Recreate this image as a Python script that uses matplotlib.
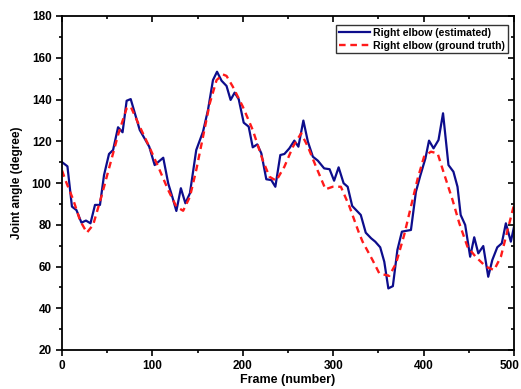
import matplotlib
matplotlib.use("Agg")
import matplotlib.pyplot as plt
import matplotlib.transforms as mtransforms
from matplotlib.ticker import MultipleLocator

plt.rcParams['font.family'] = ['Liberation Sans', 'DejaVu Sans']

est_x = [0, 6, 11, 16, 21.5, 26.5, 31.5, 36.5, 42, 46.5, 52, 56.5, 62, 67, 71.5, 76,
         86, 96.5, 102.5, 112, 117.5, 122, 126.5, 131.5, 136.5, 141.5, 148.5, 156,
         161.5, 167, 171.5, 176.5, 182, 186.5, 191, 195.5, 201, 206.5, 211, 216,
         220.5, 226, 231.5, 236, 241.5, 246, 251.5, 257, 261.5, 267, 272, 277.5,
         283, 290, 296, 301, 306, 311.5, 316, 321, 330.5, 336, 342, 346.5, 352,
         356.5, 361, 366, 371, 376, 386, 391.5, 396, 402, 406, 411, 416.5, 421.5,
         427.5, 433, 437.5, 441, 446, 451.5, 456, 460.5, 466, 471.5, 476, 481.5,
         486.5, 491, 496.5, 500]
est_y = [110, 108, 88.7, 87, 81, 82, 80.7, 89.5, 89.5, 103.8, 113.9, 115.8, 126.7,
         124.3, 139.4, 140.2, 125.4, 117.4, 108.6, 112.1, 99.8, 93.4, 86.6, 97.5,
         90.3, 95.1, 115.8, 124.6, 135, 149.3, 153.3, 149, 146.5, 139.8, 143.3,
         140.1, 128.9, 127, 117.1, 118.5, 114.2, 101.8, 101.4, 98.2, 113.4, 113.9,
         116.6, 120.3, 117.4, 129.9, 119.8, 112.6, 110.7, 107, 106.6, 101.1, 107.5,
         99.9, 98.2, 89, 84.7, 76.2, 73.5, 71.9, 69.2, 62.3, 49.5, 50.6, 67.9,
         76.7, 77.5, 95.8, 103, 111.8, 120.3, 116.6, 120.6, 133.4, 108.6, 105.4,
         98.2, 84.7, 79.9, 64.7, 74, 66.3, 69.8, 55.1, 63.1, 69.2, 71.1, 80.7,
         71.9, 79]

gt_x = [0, 5, 12.5, 20, 27.5, 34.5, 43.5, 53, 62, 71.5, 76, 86, 96.5, 108, 117.5,
        126.5, 134, 141.5, 148.5, 156, 163.5, 171, 178, 182, 189, 200, 211, 222,
        229.5, 237, 246, 255.5, 264.5, 272, 281, 291.5, 299.5, 308.5, 318, 328,
        332.5, 343.5, 351, 362, 369.5, 378.5, 386, 393.5, 400.5, 408, 415.5,
        422.5, 432, 439.5, 448.5, 457.5, 469, 478, 485.5, 492.5, 500]
gt_y = [106, 100, 91.9, 82, 76.2, 80, 93.4, 108.6, 123, 135.8, 136.6, 127, 117.4,
        106.2, 96.6, 88.7, 86.7, 93.4, 106.2, 122.2, 138.2, 149.3, 152, 151.3,
        146.1, 136.6, 125.4, 111, 103, 101.1, 107.8, 117.4, 123.8, 117.4, 107.8,
        97, 98.2, 98.2, 88.7, 76.7, 71.9, 63.1, 56.7, 55.5, 61.5, 75.1, 88.7,
        102.2, 112.6, 115, 114.2, 104.6, 91.9, 80.7, 69.5, 64.7, 59.9, 58.3, 64.7,
        76.7, 89.5]

x_ticks = [0, 100, 200, 300, 400, 500]
y_ticks = [20, 40, 60, 80, 100, 120, 140, 160, 180]

fig = plt.figure(figsize=(5.21, 3.89), dpi=100)
ax = fig.add_axes([62/521, 1-350/389, (514-62)/521, (350-16)/389])

ax.plot(est_x, est_y, color='#0d0d8c', lw=1.6, label='Right elbow (estimated)')
ax.plot(gt_x, gt_y, color='#ff1a1a', lw=1.7, dashes=(2.8, 2.0), label='Right elbow (ground truth)')

ax.set_xlim(0, 500)
ax.set_ylim(20, 180)
ax.set_xticks(x_ticks)
ax.set_yticks(y_ticks)
ax.xaxis.set_minor_locator(MultipleLocator(50))
ax.yaxis.set_minor_locator(MultipleLocator(10))
ax.tick_params(which='both', direction='out', width=1.2, labelsize=8.5)
ax.tick_params(which='major', length=4)
ax.tick_params(which='minor', length=2.5)
ax.tick_params(which='both', top=True, right=True)
for lab in ax.get_xticklabels() + ax.get_yticklabels():
    lab.set_fontweight('bold')
for s in ax.spines.values():
    s.set_linewidth(1.3)

# top/right ticks inward
for t in ax.xaxis.get_major_ticks() + ax.xaxis.get_minor_ticks():
    t.tick2line.set_marker(3)
for t in ax.yaxis.get_major_ticks() + ax.yaxis.get_minor_ticks():
    t.tick2line.set_marker(0)

# nudge last x tick label so it stays inside the figure
last = ax.get_xticklabels()[-1]
last.set_transform(last.get_transform() + mtransforms.ScaledTranslation(-4/100, 0, fig.dpi_scale_trans))

ax.set_xlabel('Frame (number)', fontsize=9, fontweight='bold', labelpad=1)
ax.set_ylabel('Joint angle (degree)', fontsize=8.5, fontweight='bold', labelpad=6)

leg = ax.legend(loc='upper right', bbox_to_anchor=((508-62)/452, 1-(25-16)/334),
                fontsize=7.6, frameon=True, fancybox=False,
                edgecolor='black', borderpad=0.25, labelspacing=0.3, handlelength=3.0,
                handletextpad=0.3, borderaxespad=0.0)
leg.get_frame().set_linewidth(1.0)
for t in leg.get_texts():
    t.set_fontweight('bold')

fig.savefig('out.png', dpi=100)
